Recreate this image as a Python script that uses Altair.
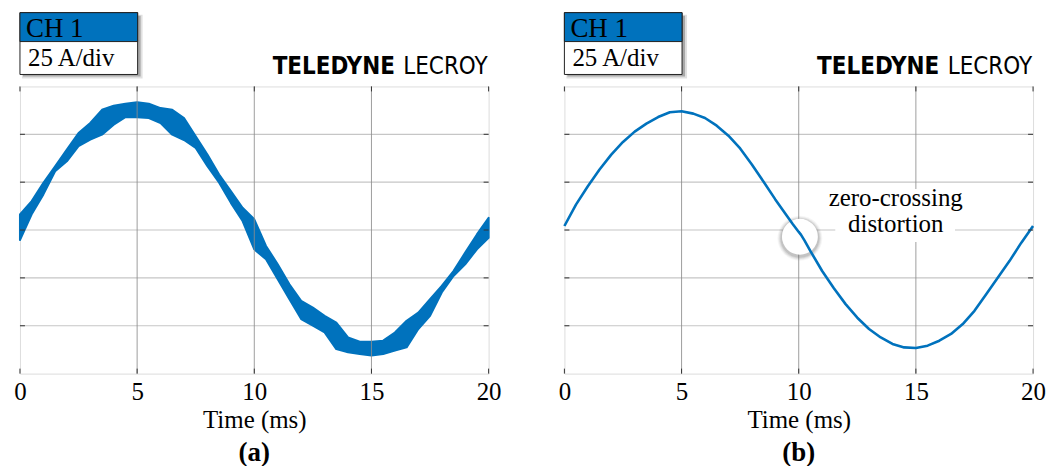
import altair as alt
import pandas as pd

SERIF = "Liberation Serif"
NARROW = "Liberation Sans Narrow, DejaVu Sans Condensed, Roboto, sans-serif"
BLUE = "#0072BD"

# ---- data ----
x_ticks = [0, 5, 10, 15, 20]
y_grid = [-50, -25, 0, 25, 50]
y_ticks = [-50, -25, 0, 25, 50]

t_a = [0, 0.5, 1, 1.5, 2, 2.5, 3, 3.5, 4, 4.5, 5, 5.5, 6, 6.5, 7, 7.5, 8, 8.5, 9, 9.5,
       10, 10.5, 11, 11.5, 12, 12.5, 13, 13.5, 14, 14.5, 15, 15.5, 16, 16.5, 17, 17.5,
       18, 18.5, 19, 19.5, 20]
upper_a = [8.2, 15.1, 24.7, 33.3, 42.0, 50.7, 55.9, 62.8, 64.9, 66.0, 66.7, 66.0, 63.7,
           62.8, 58.5, 49.0, 39.4, 29.0, 20.3, 11.6, 5.6, -8.3, -17.9, -28.3, -37.0,
           -40.5, -44.8, -48.3, -56.1, -58.3, -58.3, -57.8, -53.5, -47.4, -43.1, -36.1,
           -29.2, -21.4, -11.8, -2.3, 6.4]
lower_a = [-5.2, 8.2, 18.6, 30.7, 35.9, 43.8, 47.2, 49.8, 55.0, 59.0, 58.9, 58.5, 55.9,
           49.8, 47.0, 42.9, 33.3, 24.7, 14.2, 4.7, -10.1, -15.3, -25.7, -36.1, -46.5,
           -50.0, -53.5, -62.2, -63.9, -64.8, -65.6, -64.8, -63.0, -61.3, -51.7, -44.8,
           -32.6, -24.0, -17.9, -10.1, -4.0]

t_b = [0, 0.5, 1, 1.5, 2, 2.5, 3, 3.5, 4, 4.5, 5, 5.5, 6, 6.5, 7, 7.5, 8, 8.5, 9, 9.5,
       9.75, 10, 10.1, 10.25, 10.5, 11, 11.5, 12, 12.5, 13, 13.5, 14, 14.5, 15, 15.5, 16,
       16.5, 17, 17.5, 18, 18.5, 19, 19.5, 20]
i_b = [2.1, 13.4, 22.9, 31.6, 39.4, 46.0, 51.4, 55.6, 59.0, 61.5, 62.0, 60.8, 58.5, 54.5,
       49.3, 42.6, 34.2, 25.2, 16.0, 7.3, 3.0, -1.0, -2.5, -5.5, -11.0, -21.4, -30.4,
       -38.7, -45.8, -51.7, -56.1, -59.5, -61.3, -61.6, -60.4, -57.8, -54.3, -49.1,
       -42.2, -33.5, -24.8, -16.1, -6.6, 2.1]

channel_label = "CH 1"
scale_label = "25 A/div"
brand_bold = "TELEDYNE"
brand_light = "LECROY"
x_title = "Time (ms)"
panel_labels = ["(a)", "(b)"]
note_lines = ["zero-crossing", "distortion"]
note_t = [14.14, 14.14]
note_v = [12.5, -1.0]
note_box_t1 = [11.13, 11.56]
note_box_t2 = [17.27, 16.67]
note_box_v1 = [21.4, 7.8]
note_box_v2 = [6.3, -6.3]
circle_t = [10.05]
circle_v = [-3.5]

W, H = 470, 288

XS = alt.Scale(domain=[0, 20], nice=False)
YS = alt.Scale(domain=[-75, 75], nice=False)
one = pd.DataFrame({"k": [0]})

X_AXIS = alt.Axis(values=x_ticks, title=x_title, grid=False, ticks=False,
                  domain=False, labelFont=SERIF, labelFontSize=25,
                  labelColor="black", labelPadding=6, labelFlush=False,
                  titleFont=SERIF, titleFontSize=25, titleFontWeight="normal",
                  titleColor="black", titlePadding=3)


def xq(field):
    return alt.X(field, type="quantitative", scale=XS, axis=X_AXIS)


def yq(field):
    return alt.Y(field, type="quantitative", scale=YS, axis=None)


def decorations():
    gx = pd.DataFrame({"t": x_ticks})
    gy = pd.DataFrame({"v": y_ticks})
    tick_c = "#333333"
    top = alt.Chart(gx).mark_rule(color=tick_c, strokeWidth=1).encode(
        x=xq("t"), y=alt.value(0), y2=alt.value(5))
    bot = alt.Chart(gx).mark_rule(color=tick_c, strokeWidth=1).encode(
        x=xq("t"), y=alt.value(H - 5), y2=alt.value(H))
    lft = alt.Chart(gy).mark_rule(color=tick_c, strokeWidth=1).encode(
        y=yq("v"), x=alt.value(0), x2=alt.value(5))
    rgt = alt.Chart(gy).mark_rule(color=tick_c, strokeWidth=1).encode(
        y=yq("v"), x=alt.value(W - 5), x2=alt.value(W))
    # scope header box
    sh1 = alt.Chart(one).mark_rect(color="#000000", opacity=0.12).encode(
        x=alt.value(2), x2=alt.value(123), y=alt.value(-72), y2=alt.value(-8))
    sh2 = alt.Chart(one).mark_rect(color="#000000", opacity=0.25).encode(
        x=alt.value(3), x2=alt.value(121), y=alt.value(-71), y2=alt.value(-10))
    box = alt.Chart(one).mark_rect(color="white", stroke="#222222", strokeWidth=1).encode(
        x=alt.value(0), x2=alt.value(118), y=alt.value(-74), y2=alt.value(-12))
    head = alt.Chart(one).mark_rect(color=BLUE, stroke="#222222", strokeWidth=1).encode(
        x=alt.value(0), x2=alt.value(118), y=alt.value(-74), y2=alt.value(-45))
    t1 = alt.Chart(one).mark_text(align="left", baseline="alphabetic", font=SERIF,
                                  fontSize=27, color="black").encode(
        x=alt.value(6), y=alt.value(-50), text=alt.value(channel_label))
    t2 = alt.Chart(one).mark_text(align="left", baseline="alphabetic", font=SERIF,
                                  fontSize=25, color="black").encode(
        x=alt.value(8), y=alt.value(-20), text=alt.value(scale_label))
    b1 = alt.Chart(one).mark_text(align="right", baseline="alphabetic", font=NARROW,
                                  fontWeight="bold", fontSize=24, color="black").encode(
        x=alt.value(376), y=alt.value(-12), text=alt.value(brand_bold))
    b2 = alt.Chart(one).mark_text(align="right", baseline="alphabetic", font=NARROW,
                                  fontSize=24, color="black").encode(
        x=alt.value(W - 1), y=alt.value(-12), text=alt.value(brand_light))
    return [top, bot, lft, rgt, sh1, sh2, box, head, t1, t2, b1, b2]


def hgrid():
    return alt.Chart(pd.DataFrame({"v": y_grid})).mark_rule(
        color="#c6c6c6", strokeWidth=1.2).encode(y=yq("v"))


def vgrid():
    return alt.Chart(pd.DataFrame({"t": x_ticks[1:-1]})).mark_rule(
        color="#8c8c8c", strokeWidth=1, opacity=0.85).encode(x=xq("t"))


def bottom_title(s):
    return alt.TitleParams(s, orient="bottom", font=SERIF, fontSize=27, fontWeight="bold",
                           color="black", offset=8)


# ---- panel (a) ----
df_a = pd.DataFrame({"t": t_a, "hi": upper_a, "lo": lower_a})
area_a = alt.Chart(df_a).mark_area(color=BLUE, opacity=1, stroke=BLUE,
                                   strokeWidth=2, strokeJoin="round").encode(
    x=xq("t"), y=yq("hi"), y2="lo")
pa = alt.layer(hgrid(), area_a, vgrid(), *decorations()).properties(
    width=W, height=H, title=bottom_title(panel_labels[0]))

# ---- panel (b) ----
df_b = pd.DataFrame({"t": t_b, "v": i_b})
line_b = alt.Chart(df_b).mark_line(color=BLUE, strokeWidth=2.6, strokeJoin="round").encode(
    x=xq("t"), y=yq("v"))
df_nb = pd.DataFrame({"t1": note_box_t1, "t2": note_box_t2,
                      "v1": note_box_v1, "v2": note_box_v2})
note_bg = alt.Chart(df_nb).mark_rect(color="white").encode(
    x=xq("t1"), x2="t2", y=yq("v1"), y2="v2")
df_nt = pd.DataFrame({"t": note_t, "v": note_v, "s": note_lines})
note_txt = alt.Chart(df_nt).mark_text(align="center", baseline="alphabetic", font=SERIF,
                                      fontSize=25, color="black").encode(
    x=xq("t"), y=yq("v"), text="s:N")
df_c = pd.DataFrame({"t": circle_t, "v": circle_v})
glow = []
for sz, op in [(2025, 0.06), (1849, 0.09), (1681, 0.12), (1521, 0.16)]:
    glow.append(alt.Chart(df_c).mark_point(shape="circle", filled=True, color="#606060",
                                           opacity=op, size=sz, yOffset=1.5).encode(
        x=xq("t"), y=yq("v")))
circ = alt.Chart(df_c).mark_point(shape="circle", filled=True, color="white", opacity=1,
                                  size=1296).encode(x=xq("t"), y=yq("v"))
pb = alt.layer(hgrid(), vgrid(), note_bg, note_txt, *glow, circ, line_b,
               *decorations()).properties(
    width=W, height=H, title=bottom_title(panel_labels[1]))

chart = alt.hconcat(pa, pb, spacing=76, bounds="flush").properties(
    padding={"left": 5, "top": 3, "right": 5, "bottom": 2}
).configure_view(stroke="#2a2a2a", strokeWidth=1.5).configure(background="white")

chart.save("out.html", embed_options={"renderer": "svg", "actions": False})
